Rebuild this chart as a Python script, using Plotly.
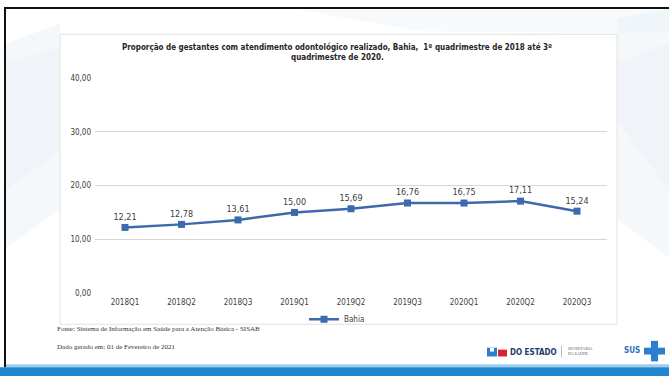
import plotly.graph_objects as go

W, H = 669, 381

quarters = ["2018Q1", "2018Q2", "2018Q3", "2019Q1", "2019Q2",
            "2019Q3", "2020Q1", "2020Q2", "2020Q3"]
bahia = [12.21, 12.78, 13.61, 15.00, 15.69, 16.76, 16.75, 17.11, 15.24]
y_ticks = [0, 10, 20, 30, 40]
y_tick_text = ["0,00", "10,00", "20,00", "30,00", "40,00"]

title_lines = ["Proporção de gestantes com atendimento odontológico realizado, Bahia,  "
               "1º quadrimestre de 2018 até 3º",
               "quadrimestre de 2020."]
source_text = "Fonte: Sistema de Informação em Saúde para a Atenção Básica - SISAB"
date_text = "Dado gerado em: 01 de Fevereiro de 2021"

NARROW = "Liberation Sans Narrow, Arial Narrow, DejaVu Sans Condensed, sans-serif"
SERIF = "Liberation Serif, Times New Roman, DejaVu Serif, serif"
LINE_BLUE = "#3d69ad"


def px(x):
    return x / W


def py(y):
    return 1 - y / H


def rect(x0, y0, x1, y1, fill, line=None, lw=0, layer="below"):
    return dict(type="rect", xref="paper", yref="paper",
                x0=px(x0), x1=px(x1), y0=py(y1), y1=py(y0),
                fillcolor=fill, line=dict(color=line or fill, width=lw),
                layer=layer)


def path(points, fill):
    d = "M " + " L ".join(f"{px(a):.4f},{py(b):.4f}" for a, b in points) + " Z"
    return dict(type="path", xref="paper", yref="paper", path=d,
                fillcolor=fill, line=dict(width=0), layer="below")


def note(text, x, y, size, family, color="#333333", xanchor="left", align="left"):
    return dict(text=text, x=px(x), y=py(y), xref="paper", yref="paper",
                xanchor=xanchor, yanchor="middle", showarrow=False, align=align,
                font=dict(family=family, size=size, color=color))


labels = [f"{v:.2f}".replace(".", ",") for v in bahia]

fig = go.Figure()
fig.add_trace(go.Scatter(
    x=quarters, y=bahia, name="Bahia",
    mode="lines+markers+text",
    line=dict(color=LINE_BLUE, width=2.5),
    marker=dict(symbol="square", size=7, color=LINE_BLUE),
    text=labels, textposition="top center",
    textfont=dict(family=NARROW, size=9, color="#404040"),
    cliponaxis=False,
))

shapes = [
    # slide background swooshes
    path([(6, 40), (60, 20), (60, 210), (6, 250)], "rgba(220,229,239,0.28)"),
    path([(6, 60), (60, 45), (60, 150), (6, 190)], "rgba(228,235,243,0.3)"),
    path([(617, 15), (669, 5), (669, 260), (617, 220)], "rgba(220,229,239,0.28)"),
    path([(617, 60), (669, 40), (669, 190), (617, 120)], "rgba(228,235,243,0.3)"),
    path([(300, 6), (669, 6), (669, 30), (420, 28)], "rgba(230,237,244,0.3)"),
    # chart area box
    rect(60, 31, 617, 328, "white", line="#e2e2e2", lw=1),
    # slide frame
    rect(4, 3, 669, 5, "#111111", layer="above"),
    rect(4, 3, 6, 372, "#111111", layer="above"),
    # bottom band
    rect(6, 369, 669, 372, "#9fcdee", layer="above"),
    rect(0, 372, 669, 381, "#1f86cf", layer="above"),
    # logo marks
    rect(487, 352, 497, 361, "#2a7fd0", layer="above"),
    rect(490, 352, 494, 356, "white", layer="above"),
    rect(498, 354, 507, 361, "#d7252f", layer="above"),
    rect(561, 350, 562, 362, "#bbbbbb", layer="above"),
    rect(651, 345, 658, 366, "#2a7fd0", layer="above"),
    rect(644, 352, 665, 359, "#2a7fd0", layer="above"),
]

annotations = [
    note("<b>" + title_lines[0] + "</b>", 337, 44, 8, NARROW, "#262626", "center"),
    note("<b>" + title_lines[1] + "</b>", 337, 55, 8, NARROW, "#262626", "center"),
    note(source_text, 55, 333, 7, SERIF),
    note(date_text, 55, 351, 7, SERIF),
    note("<b>DO ESTADO</b>", 508, 357, 8, NARROW, "#1d3a6e"),
    note("SECRETARIA<br>DA SAÚDE", 566, 355, 4, SERIF, "#555555"),
    note("<b>SUS</b>", 642, 355, 8, NARROW, "#2a6fc0", "right"),
]

fig.update_layout(
    width=W, height=H,
    margin=dict(l=0, r=0, t=0, b=0),
    paper_bgcolor="white", plot_bgcolor="rgba(0,0,0,0)",
    shapes=shapes, annotations=annotations,
    showlegend=True,
    legend=dict(orientation="h", x=px(337), y=py(323), xanchor="center",
                yanchor="middle", bgcolor="rgba(0,0,0,0)",
                font=dict(family=NARROW, size=8, color="#404040"),
                itemwidth=30),
    xaxis=dict(domain=[px(95), px(607)], type="category",
               showgrid=False, zeroline=False, showline=False,
               ticks="", tickfont=dict(family=NARROW, size=8, color="#404040"),
               ticklabelstandoff=3),
    yaxis=dict(domain=[py(296), py(76)], range=[0, 40],
               tickvals=y_ticks, ticktext=y_tick_text,
               showgrid=True, gridcolor="#d6d6d6", gridwidth=1,
               zeroline=False, showline=False, ticks="",
               tickfont=dict(family=NARROW, size=8, color="#404040"),
               ticklabelstandoff=3),
)

fig.write_html("out.html")
